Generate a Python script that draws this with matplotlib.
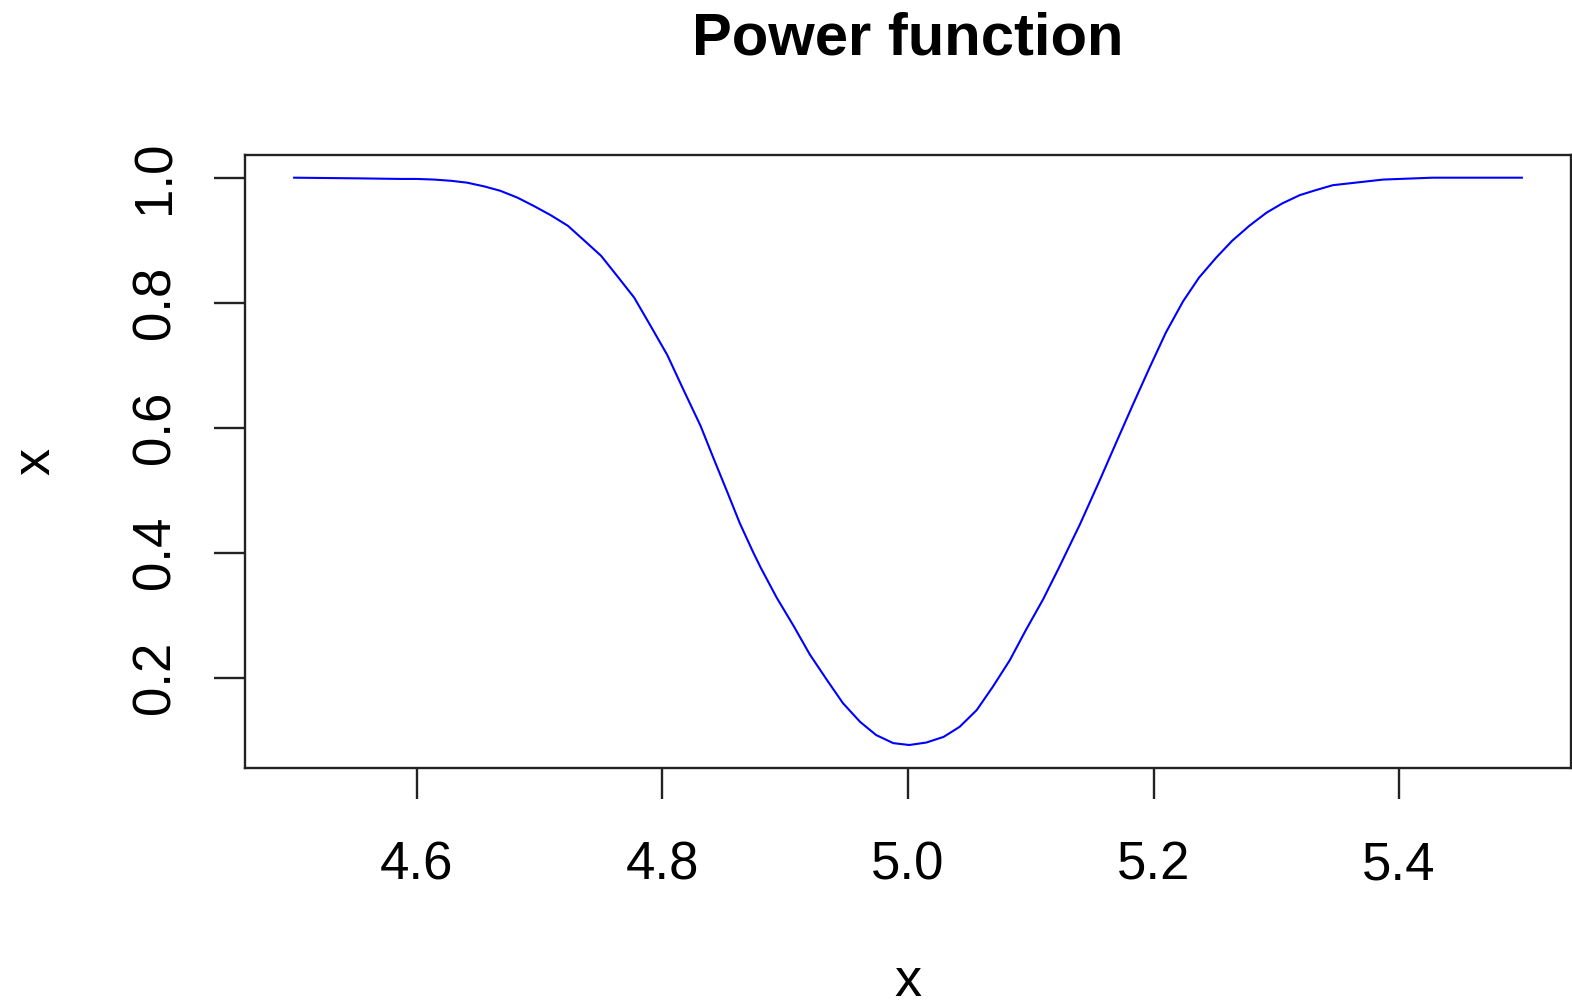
#! /usr/bin/env python3
# -*- coding: utf-8 -*-

import numpy as np
import matplotlib
matplotlib.use("Agg")
import matplotlib.pyplot as plt


## Data

mu = [4.500, 4.550, 4.587, 4.600, 4.614, 4.628, 4.641, 4.655, 4.668, 4.682,
      4.695, 4.709, 4.723, 4.736, 4.750, 4.763, 4.777, 4.790, 4.804, 4.817,
      4.831, 4.842, 4.853, 4.863, 4.874, 4.880, 4.893, 4.907, 4.920, 4.934,
      4.947, 4.961, 4.974, 4.988, 5.001, 5.015, 5.029, 5.042, 5.056, 5.069,
      5.083, 5.096, 5.110, 5.123, 5.140, 5.156, 5.170, 5.183, 5.197, 5.210,
      5.224, 5.237, 5.251, 5.264, 5.278, 5.292, 5.305, 5.319, 5.332, 5.346,
      5.387, 5.427, 5.500]
power = [1.000, 0.999, 0.998, 0.998, 0.997, 0.995, 0.992, 0.986, 0.979, 0.968,
         0.955, 0.940, 0.923, 0.900, 0.875, 0.843, 0.808, 0.764, 0.716, 0.661,
         0.603, 0.549, 0.496, 0.447, 0.400, 0.376, 0.328, 0.282, 0.237, 0.196,
         0.159, 0.129, 0.108, 0.095, 0.092, 0.096, 0.105, 0.121, 0.148, 0.185,
         0.228, 0.276, 0.325, 0.376, 0.445, 0.515, 0.578, 0.636, 0.697, 0.752,
         0.802, 0.840, 0.872, 0.899, 0.923, 0.944, 0.959, 0.972, 0.980, 0.988,
         0.997, 1.000, 1.000]

x_ticks = [4.6, 4.8, 5.0, 5.2, 5.4]
y_ticks = [0.2, 0.4, 0.6, 0.8, 1.0]

title = "Power function"
x_label = "x"
y_label = "x"


def main():
    plt.rcParams['font.family'] = ['Liberation Sans', 'DejaVu Sans']

    W, H = 1572, 1006
    fig = plt.figure(figsize=(W / 100, H / 100), dpi=100)

    # axes box in pixels (R style, 4% padding on both axes)
    left, right, top, bottom = 245, 1571, 155, 767.7
    ax = fig.add_axes([left / W, 1 - bottom / H, (right - left) / W, (bottom - top) / H])

    ax.plot(mu, power, color="blue", lw=1.5)

    xr = max(mu) - min(mu)
    yr = max(power) - min(power)
    ax.set_xlim(min(mu) - 0.04 * xr, max(mu) + 0.04 * xr)
    ax.set_ylim(min(power) - 0.04 * yr, max(power) + 0.04 * yr)

    ax.set_xticks(x_ticks)
    ax.set_xticklabels(["{:.1f}".format(v) for v in x_ticks])
    ax.set_yticks(y_ticks)
    ax.set_yticklabels(["{:.1f}".format(v) for v in y_ticks])

    for s in ax.spines.values():
        s.set_linewidth(1.7)
        s.set_color("#222222")

    ax.tick_params(axis="both", direction="out", length=22.3, width=1.7,
                   color="#222222", labelsize=38)
    ax.tick_params(axis="x", pad=30)
    ax.tick_params(axis="y", pad=24, labelrotation=90)
    for lab in ax.get_yticklabels():
        lab.set_verticalalignment("center")

    ax.set_title(title, fontsize=43, fontweight="bold", y=1.1764, va="center")
    ax.set_xlabel(x_label, fontsize=39, va="center")
    ax.xaxis.set_label_coords(0.5, -0.3498)
    ax.set_ylabel(y_label, fontsize=39, va="center")
    ax.yaxis.set_label_coords(-0.1584, 0.5)

    fig.savefig("out.png", dpi=100)


if __name__ == "__main__":
    main()
